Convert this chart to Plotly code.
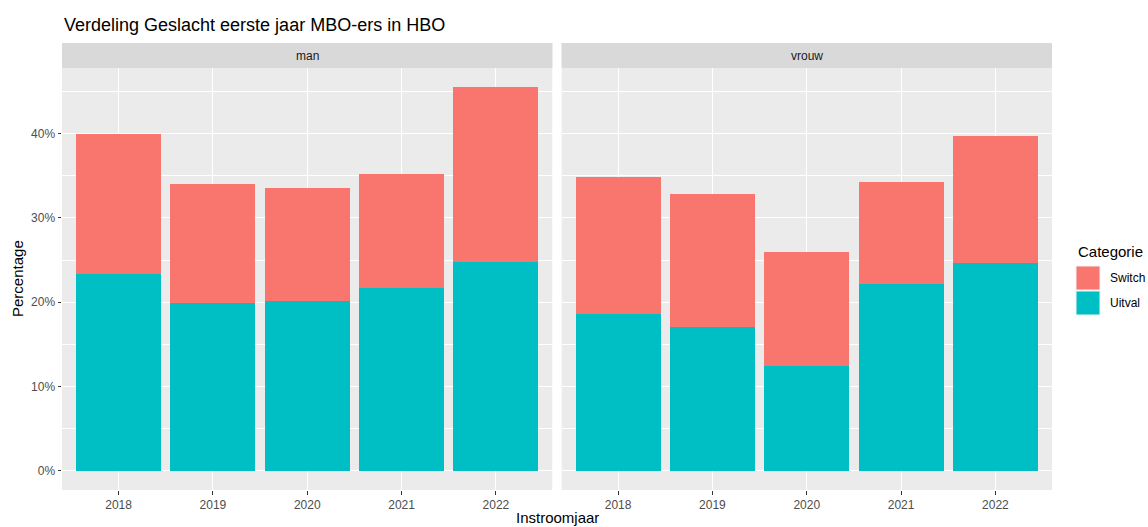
import plotly.graph_objects as go

years = ["2018", "2019", "2020", "2021", "2022"]
man_uitval = [23.3, 19.85, 20.2, 21.7, 24.8]
man_switch_total = [39.9, 34.0, 33.5, 35.2, 45.5]
vrouw_uitval = [18.6, 17.0, 12.4, 22.1, 24.6]
vrouw_switch_total = [34.9, 32.8, 25.9, 34.3, 39.7]
facets = ["man", "vrouw"]
categories = ["Switch", "Uitval"]
colors = {"Switch": "#F8766D", "Uitval": "#00BFC4"}
ytick_vals = [0, 10, 20, 30, 40]
ytick_text = ["0%", "10%", "20%", "30%", "40%"]

man_switch = [t - u for t, u in zip(man_switch_total, man_uitval)]
vrouw_switch = [t - u for t, u in zip(vrouw_switch_total, vrouw_uitval)]

FONT = "Liberation Sans, Arial, sans-serif"
fig = go.Figure()

data = {
    "man": {"Uitval": man_uitval, "Switch": man_switch},
    "vrouw": {"Uitval": vrouw_uitval, "Switch": vrouw_switch},
}
for i, f in enumerate(facets):
    xa = "x" if i == 0 else "x2"
    ya = "y" if i == 0 else "y2"
    for cat in ["Uitval", "Switch"]:
        fig.add_trace(go.Bar(
            x=years, y=data[f][cat], name=cat, legendgroup=cat,
            showlegend=False, marker=dict(color=colors[cat], line=dict(width=0)),
            width=0.9, xaxis=xa, yaxis=ya,
        ))

L, R, T, B = 62, 1052, 68, 490
W, H = 1148, 527
pw = R - L
ph = B - T
gap = 9
half = (pw - gap) / 2
d1 = [0, half / pw]
d2 = [(half + gap) / pw, 1]


def px_x(x):
    return (x - L) / pw


def px_y(y):
    return (B - y) / ph


yrange = [-2.275, 47.775]
common_x = dict(type="category", range=[-0.6, 4.6], showgrid=True, gridcolor="white",
                gridwidth=1.1, ticks="outside", ticklen=3.5, tickcolor="#333333",
                tickfont=dict(family=FONT, size=12, color="#4D4D4D"), zeroline=False,
                showline=False)
common_y = dict(range=yrange, tickmode="array", tickvals=ytick_vals, ticktext=ytick_text,
                gridcolor="white", gridwidth=1.1,
                zeroline=False, showline=False,
                minor=dict(tickvals=[5, 15, 25, 35, 45], showgrid=True, gridcolor="white", gridwidth=0.5, ticks=""))

fig.update_layout(
    width=W, height=H,
    margin=dict(l=L, r=W - R, t=T, b=H - B),
    paper_bgcolor="white", plot_bgcolor="#EBEBEB",
    barmode="stack", bargap=0.1,
    font=dict(family=FONT),
    xaxis=dict(domain=d1, anchor="y", **common_x),
    xaxis2=dict(domain=d2, anchor="y2", **common_x),
    yaxis=dict(anchor="x", ticks="outside", ticklen=3.5, tickcolor="#333333",
               tickfont=dict(family=FONT, size=12, color="#4D4D4D"), **common_y),
    yaxis2=dict(anchor="x2", matches="y", showticklabels=False, ticks="", **common_y),
    showlegend=False,
)

# strips
strip_h = 25 / ph
for f, d in zip(facets, [d1, d2]):
    fig.add_shape(type="rect", xref="paper", yref="paper", x0=d[0], x1=d[1], y0=1, y1=1 + strip_h,
                  fillcolor="#D9D9D9", line=dict(width=0), layer="below")
    fig.add_annotation(text=f, xref="paper", yref="paper", x=(d[0] + d[1]) / 2, y=px_y(56),
                       showarrow=False, font=dict(family=FONT, size=12, color="#1A1A1A"),
                       xanchor="center", yanchor="middle")
# white gap between panels
fig.add_shape(type="rect", xref="paper", yref="paper", x0=d1[1], x1=d2[0], y0=0, y1=1,
              fillcolor="white", line=dict(width=0), layer="below")

# manual legend (ggplot-style keys)
fig.add_annotation(text="Categorie", xref="paper", yref="paper", x=px_x(1076), y=px_y(251),
                   xanchor="left", yanchor="middle", showarrow=False,
                   font=dict(family=FONT, size=15, color="black"))
for cat, (y0, y1) in zip(categories, [(266, 290), (291, 315)]):
    fig.add_shape(type="rect", xref="paper", yref="paper", x0=px_x(1076), x1=px_x(1100),
                  y0=px_y(y1), y1=px_y(y0), fillcolor=colors[cat], line=dict(color="#F2F2F2", width=1))
    fig.add_annotation(text=cat, xref="paper", yref="paper", x=px_x(1108), y=px_y((y0 + y1) / 2),
                       xanchor="left", yanchor="middle", showarrow=False,
                       font=dict(family=FONT, size=12, color="black"))

fig.add_annotation(text="Verdeling Geslacht eerste jaar MBO-ers in HBO", xref="paper", yref="paper",
                   x=0, y=px_y(25), xanchor="left", yanchor="middle", showarrow=False,
                   font=dict(family=FONT, size=18, color="black"))
fig.add_annotation(text="Instroomjaar", xref="paper", yref="paper", x=px_x(557), y=px_y(517),
                   xanchor="center", yanchor="middle", showarrow=False,
                   font=dict(family=FONT, size=15, color="black"))
fig.add_annotation(text="Percentage", xref="paper", yref="paper", x=px_x(17), y=0.5,
                   xanchor="center", yanchor="middle", textangle=-90, showarrow=False,
                   font=dict(family=FONT, size=15, color="black"))

fig.write_html("out.html", post_script="document.body.style.margin='0';",
               config={"displayModeBar": False})
